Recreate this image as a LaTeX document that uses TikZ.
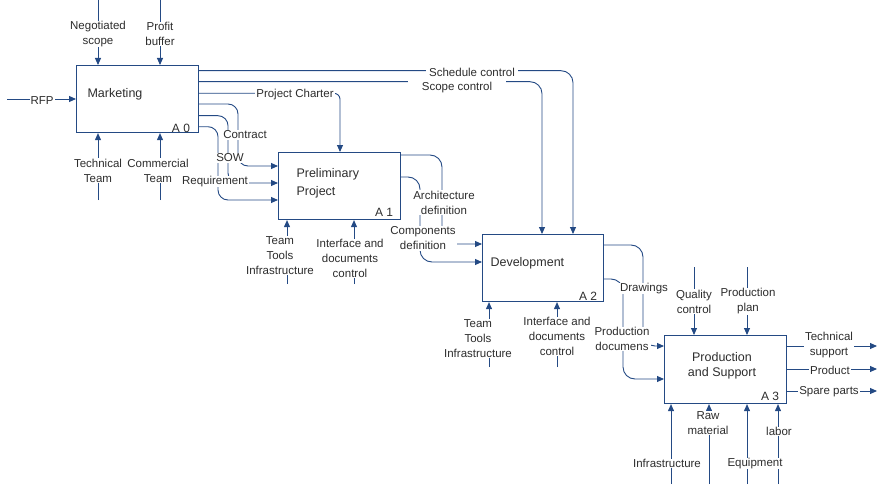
\documentclass[tikz,border=0pt]{standalone}
\usepackage{fontspec}
\setmainfont{Liberation Sans}
\usetikzlibrary{arrows.meta}
\definecolor{ln}{RGB}{36,74,132}
\definecolor{tx}{RGB}{45,45,45}
\tikzset{
  box/.style={draw=ln, line width=1.1pt, anchor=north west, inner sep=0pt},
  conn/.style={draw=ln, line width=0.9pt},
  arr/.style={conn, -{Triangle[length=7pt,width=6pt]}},
  lbl/.style={font=\fontsize{11.5}{15}\selectfont, text=tx, fill=white, inner xsep=1pt, inner ysep=0.5pt, align=center, yshift=-1.5pt},
  ttl/.style={font=\fontsize{12.5}{18}\selectfont, text=tx, align=left, yshift=-1.5pt},
  num/.style={font=\fontsize{12}{14}\selectfont, text=tx, yshift=-1pt},
}
\begin{document}
\begin{tikzpicture}[x=1pt,y=-1pt]
\useasboundingbox (0,0) rectangle (877,484);
% boxes
\node[box, minimum width=122pt, minimum height=67pt] (A0) at (76,65) {};
\node[box, minimum width=122pt, minimum height=67pt] (A1) at (278,152) {};
\node[box, minimum width=121pt, minimum height=67pt] (A2) at (482,234) {};
\node[box, minimum width=122pt, minimum height=68pt] (A3) at (664,335) {};
\node[ttl, anchor=west] (t0) at (84,93) {Marketing};
\node[ttl, anchor=west] (t1) at (293,182) {Preliminary\\Project};
\node[ttl, anchor=west] (t2) at (487,262) {Development};
\node[ttl, align=center, font=\fontsize{12.5}{15}\selectfont] (t3) at (722,364.5) {Production\\and Support};
\node[num] (n0) at (181,127) {A 0};
\node[num] (n1) at (384,211) {A 1};
\node[num] (n2) at (588,295) {A 2};
\node[num] (n3) at (770,395) {A 3};
% free ends
\coordinate (ns) at (98,0);
\coordinate (pb) at (160,0);
\coordinate (tt) at (98,200);
\coordinate (ct) at (160,200);
\coordinate (rfp) at (7,99);
\coordinate (t1a) at (287,284);
\coordinate (t1b) at (354,284);
\coordinate (t2a) at (489,367);
\coordinate (t2b) at (557,367);
\coordinate (qc) at (694,267);
\coordinate (pp) at (747,267);
\coordinate (b3a) at (671,484);
\coordinate (b3b) at (709,484);
\coordinate (b3c) at (747,484);
\coordinate (b3d) at (778,484);
\coordinate (o1) at (877,346);
\coordinate (o2) at (877,369);
\coordinate (o3) at (877,391);
% A0 connectors
\draw[arr] (ns) -- (A0.north -| ns);
\draw[arr] (pb) -- (A0.north -| pb);
\draw[arr] (tt) -- (A0.south -| tt);
\draw[arr] (ct) -- (A0.south -| ct);
\draw[arr] (rfp) -- (A0.west |- rfp);
\draw[arr, rounded corners=12] (A0.east |- 0,70.7) -| (A2.north -| 573,0);
\draw[arr, rounded corners=12] (A0.east |- 0,81.7) -| (A2.north -| 542,0);
\draw[arr, rounded corners=6] (A0.east |- 0,93.3) -| (A1.north -| 340,0);
\draw[arr, rounded corners=10] (A0.east |- 0,104) -| (238,166) -- (A1.west |- 0,166);
\draw[arr, rounded corners=10] (A0.east |- 0,115.7) -| (228,183) -- (A1.west |- 0,183);
\draw[arr, rounded corners=10] (A0.east |- 0,126.7) -| (218,200) -- (A1.west |- 0,200);
% A1 connectors
\draw[arr] (t1a) -- (A1.south -| t1a);
\draw[arr] (t1b) -- (A1.south -| t1b);
\draw[arr, rounded corners=12] (A1.east |- 0,155) -| (442,244) -- (A2.west |- 0,244);
\draw[arr, rounded corners=12] (A1.east |- 0,177) -| (420,262) -- (A2.west |- 0,262);
% A2 connectors
\draw[arr] (t2a) -- (A2.south -| t2a);
\draw[arr] (t2b) -- (A2.south -| t2b);
\draw[arr, rounded corners=12] (A2.east |- 0,245) -| (643,346) -- (A3.west |- 0,346);
\draw[arr, rounded corners=12] (A2.east |- 0,279) -| (623,379) -- (A3.west |- 0,379);
% A3 connectors
\draw[arr] (qc) -- (A3.north -| qc);
\draw[arr] (pp) -- (A3.north -| pp);
\draw[arr] (b3a) -- (A3.south -| b3a);
\draw[arr] (b3b) -- (A3.south -| b3b);
\draw[arr] (b3c) -- (A3.south -| b3c);
\draw[arr] (b3d) -- (A3.south -| b3d);
\draw[arr] (A3.east |- o1) -- (o1);
\draw[arr] (A3.east |- o2) -- (o2);
\draw[arr] (A3.east |- o3) -- (o3);
% labels
\node[lbl] (l1) at (98,32.5) {Negotiated\\scope};
\node[lbl] (l2) at (160,32.5) {Profit\\buffer};
\node[lbl] (l3) at (98,169) {Technical\\Team};
\node[lbl] (l4) at (158,169) {Commercial\\Team};
\node[lbl] (l5) at (42,99) {RFP};
\node[lbl, inner xsep=14pt, inner ysep=2pt] (l7) at (457,86) {Scope control};
\node[lbl, inner xsep=3pt] (l6) at (472,71) {Schedule control};
\node[lbl] (l8) at (295,93.5) {Project Charter};
\node[lbl] (l9) at (245,133.5) {Contract};
\node[lbl] (l10) at (230,156.5) {SOW};
\node[lbl] (l11) at (215,180) {Requirement};
\node[lbl] (l12) at (280,254) {Team\\Tools\\Infrastructure};
\node[lbl] (l13) at (350,257) {Interface and\\documents\\control};
\node[lbl] (l14) at (444,201) {Architecture\\definition};
\node[lbl] (l15) at (423,237) {Components\\definition};
\node[lbl] (l16) at (478,337) {Team\\Tools\\Infrastructure};
\node[lbl] (l17) at (557,335) {Interface and\\documents\\control};
\node[lbl] (l18) at (644,287) {Drawings};
\node[lbl] (l19) at (622,337.5) {Production\\documens};
\node[lbl] (l20) at (694,300) {Quality\\control};
\node[lbl] (l21) at (748,300) {Production\\plan};
\node[lbl] (l22) at (667,462) {Infrastructure};
\node[lbl] (l23) at (708,421.5) {Raw\\material};
\node[lbl] (l24) at (755,462) {Equipment};
\node[lbl] (l25) at (779,430) {labor};
\node[lbl] (l26) at (829,344) {Technical\\support};
\node[lbl] (l27) at (830,369) {Product};
\node[lbl] (l28) at (829,390) {Spare parts};
\end{tikzpicture}
\end{document}
